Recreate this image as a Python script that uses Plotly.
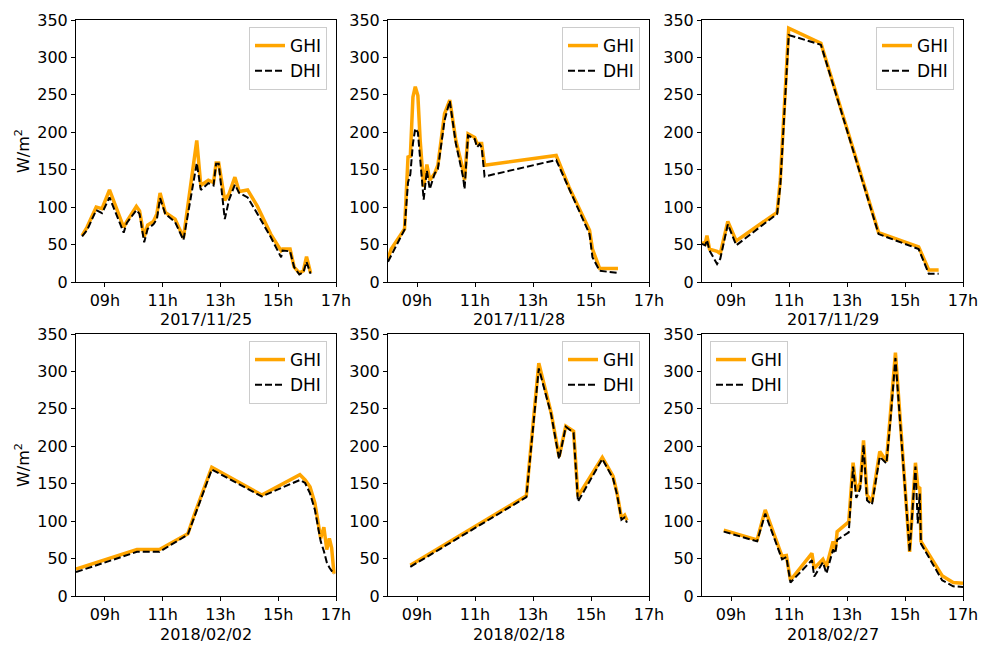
import plotly.graph_objects as go

# ---------------- data (hours of day, W/m2) ----------------
dates = ["2017/11/25", "2017/11/28", "2017/11/29", "2018/02/02", "2018/02/18", "2018/02/27"]

d1_t = [8.21, 8.38, 8.70, 8.90, 9.16, 9.65, 9.76, 10.09, 10.20, 10.36, 10.48, 10.68, 10.80, 10.91, 11.09,
        11.43, 11.72, 12.18, 12.32, 12.58, 12.76, 12.85, 12.94, 13.15, 13.30, 13.50, 13.65, 13.94, 14.28,
        14.74, 15.10, 15.15, 15.41, 15.55, 15.73, 15.87, 15.98, 16.12]
d1_ghi = [62, 73, 100, 98, 123, 73, 81, 101, 95, 60, 76, 81, 91, 119, 93, 84, 59, 189, 129, 136, 133, 159,
          159, 109, 118, 140, 121, 123, 101, 64, 42, 44, 44, 20, 12, 15, 34, 12]
d1_dhi = [61, 69, 96, 92, 113, 66, 79, 96, 91, 53, 71, 77, 84, 112, 91, 80, 56, 159, 123, 132, 129, 158,
          158, 84, 110, 130, 119, 113, 91, 60, 33, 42, 41, 20, 10, 13, 27, 11]

d2_t = [8.00, 8.11, 8.57, 8.69, 8.77, 8.86, 8.94, 9.03, 9.11, 9.23, 9.34, 9.44, 9.61, 9.72, 9.95, 10.13,
        10.34, 10.59, 10.64, 10.76, 10.99, 11.07, 11.16, 11.23, 11.33, 13.80, 14.24, 14.95, 15.05, 15.30,
        15.93]
d2_ghi = [31, 44, 71, 167, 168, 247, 261, 249, 189, 127, 157, 136, 145, 156, 225, 243, 189, 149, 136, 198,
          193, 185, 185, 185, 156, 169, 127, 69, 44, 18, 18]
d2_dhi = [27, 35, 70, 133, 144, 185, 205, 200, 162, 110, 149, 124, 145, 151, 216, 242, 185, 140, 124, 196,
          191, 180, 184, 180, 141, 163, 125, 64, 33, 15, 12]

d3_t = [8.00, 8.11, 8.17, 8.26, 8.52, 8.63, 8.89, 9.18, 10.59, 10.70, 10.99, 12.10, 14.09, 15.47, 15.82,
        16.16]
d3_ghi = [53, 51, 62, 44, 41, 38, 81, 55, 93, 136, 339, 319, 66, 47, 16, 16]
d3_dhi = [51, 49, 56, 42, 24, 31, 77, 49, 91, 129, 330, 317, 64, 44, 11, 11]

d4_t = [8.00, 10.11, 10.89, 11.87, 12.12, 12.70, 14.43, 15.75, 15.93, 16.10, 16.27, 16.47, 16.58, 16.68,
        16.77, 16.85, 16.93]
d4_ghi = [36, 62, 62, 83, 111, 172, 135, 162, 155, 146, 124, 77, 92, 62, 77, 64, 30]
d4_dhi = [32, 59, 59, 82, 108, 169, 133, 155, 151, 137, 115, 73, 60, 45, 38, 33, 29]

d5_t = [8.77, 12.77, 13.20, 13.63, 13.90, 14.13, 14.40, 14.55, 15.39, 15.76, 15.90, 16.05, 16.16, 16.24]
d5_ghi = [41, 134, 311, 244, 186, 227, 220, 133, 185, 160, 137, 104, 108, 101]
d5_dhi = [39, 132, 304, 242, 183, 226, 218, 126, 183, 157, 135, 102, 105, 98]

d6_t = [8.75, 9.90, 10.18, 10.76, 10.91, 11.05, 11.79, 11.87, 12.17, 12.29, 12.52, 12.60, 12.66, 13.06,
        13.21, 13.32, 13.46, 13.57, 13.69, 13.86, 14.13, 14.36, 14.49, 14.67, 15.16, 15.36, 15.44, 15.51,
        15.55, 16.28, 16.66, 17.00]
d6_ghi = [88, 75, 115, 53, 54, 21, 57, 37, 49, 39, 73, 62, 86, 99, 178, 140, 151, 208, 135, 126, 193, 180,
          240, 325, 59, 178, 146, 144, 73, 27, 18, 17]
d6_dhi = [86, 73, 110, 49, 52, 18, 48, 26, 45, 30, 62, 57, 75, 85, 173, 131, 144, 202, 128, 122, 186, 177,
          231, 318, 59, 173, 97, 137, 70, 21, 13, 12]

x_tickvals = [9, 11, 13, 15, 17]
x_ticktext = ["09h", "11h", "13h", "15h", "17h"]
y_tickvals = [0, 50, 100, 150, 200, 250, 300, 350]

series = [(d1_t, d1_ghi, d1_dhi), (d2_t, d2_ghi, d2_dhi), (d3_t, d3_ghi, d3_dhi),
          (d4_t, d4_ghi, d4_dhi), (d5_t, d5_ghi, d5_dhi), (d6_t, d6_ghi, d6_dhi)]

# ---------------- layout geometry ----------------
W, H = 983, 646
col_px = [(76, 336), (388, 649), (702, 963)]
row_px = [(20, 282), (334, 596)]
FONT = "DejaVu Sans"

fig = go.Figure()
layout = dict(
    width=W, height=H, margin=dict(l=0, r=0, t=0, b=0),
    paper_bgcolor="white", plot_bgcolor="white",
    font=dict(family=FONT, size=16, color="black"),
    showlegend=True, template="none",
)
annotations = []

for i, (t, ghi, dhi) in enumerate(series):
    r, c = divmod(i, 3)
    x0, x1 = col_px[c]
    y0, y1 = row_px[r]
    n = "" if i == 0 else str(i + 1)
    lg = "legend" if i == 0 else f"legend{i + 1}"
    fig.add_trace(go.Scatter(x=t, y=ghi, mode="lines", name="GHI",
                             line=dict(color="#FFA500", width=3.5),
                             xaxis="x" + n, yaxis="y" + n, legend=lg))
    fig.add_trace(go.Scatter(x=t, y=dhi, mode="lines", name="DHI",
                             line=dict(color="black", width=2, dash="7px,3px"),
                             xaxis="x" + n, yaxis="y" + n, legend=lg))
    axstyle = dict(showline=True, linecolor="black", linewidth=1, mirror=True,
                   ticks="outside", ticklen=4, tickcolor="black", showgrid=False,
                   zeroline=False, automargin=False, tickfont=dict(size=16, family=FONT))
    layout["xaxis" + n] = dict(domain=[x0 / W, x1 / W], range=[8, 17], tickvals=x_tickvals,
                               ticktext=x_ticktext, anchor="y" + n, **axstyle)
    layout["yaxis" + n] = dict(domain=[1 - y1 / H, 1 - y0 / H], range=[0, 350], tickvals=y_tickvals,
                               anchor="x" + n, **axstyle)
    # legend
    if i == 5:
        lx, xa = (x0 + 8) / W, "left"
    else:
        lx, xa = (x1 - 9) / W, "right"
    layout[lg] = dict(x=lx, xanchor=xa, y=1 - (y0 + 7) / H, yanchor="top",
                      bgcolor="rgba(255,255,255,0.8)", bordercolor="#cccccc", borderwidth=1,
                      font=dict(size=17, family=FONT), tracegroupgap=0, itemwidth=30,
                      entrywidth=82)
    # date label
    annotations.append(dict(text=dates[i], x=(x0 + x1) / 2 / W, y=1 - (y1 + 38) / H,
                            xref="paper", yref="paper", xanchor="center", yanchor="middle",
                            showarrow=False, font=dict(size=16, family=FONT)))
    if c == 0:
        annotations.append(dict(text="W/m<sup>2</sup>", x=22 / W, y=1 - (y0 + y1) / 2 / H,
                                xref="paper", yref="paper", xanchor="center", yanchor="middle",
                                textangle=-90, showarrow=False, font=dict(size=16, family=FONT)))

layout["annotations"] = annotations
fig.update_layout(**layout)
fig.write_html("out.html")
